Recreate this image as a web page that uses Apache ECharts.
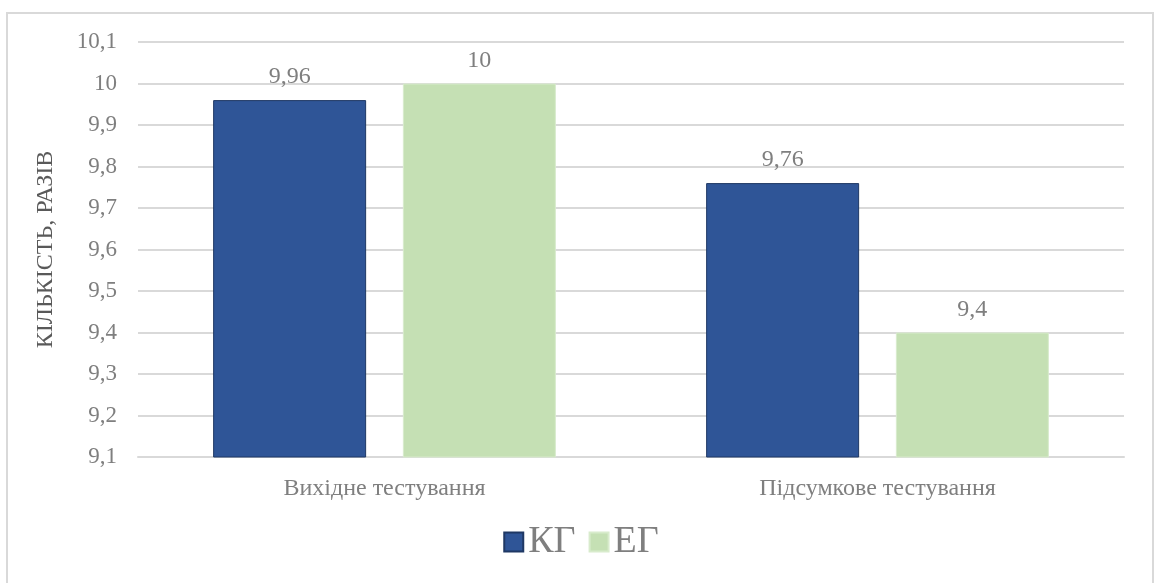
<!DOCTYPE html>
<html>
<head>
<meta charset="utf-8">
<script src="https://cdn.jsdelivr.net/npm/echarts@6/dist/echarts.min.js"></script>
<style>
  html, body { margin: 0; padding: 0; background: #fff; }
  #chart { width: 1162px; height: 583px; }
</style>
</head>
<body>
<div id="chart"></div>
<script>
const categories = ['Вихідне тестування', 'Підсумкове тестування']
const kgValues = [9.96, 9.76]
const egValues = [10, 9.4]
const seriesNames = ['КГ', 'ЕГ']

const FONT = 'Liberation Serif'
const GREY = '#7f7f7f'
const comma = (v) => String(v).replace('.', ',')

const chart = echarts.init(document.getElementById('chart'))

const barLabel = {
  show: true, position: 'top', distance: 11,
  color: GREY, fontFamily: FONT, fontSize: 24,
  formatter: (p) => comma(p.value)
}

chart.setOption({
  animation: false,
  textStyle: { fontFamily: FONT },
  graphic: [{
    type: 'rect', silent: true,
    shape: { x: 7, y: 13, width: 1146, height: 600 },
    style: { fill: 'none', stroke: '#d9d9d9', lineWidth: 2 }
  }],
  grid: { left: 138, right: 38, top: 42, bottom: 126 },
  legend: {
    bottom: 17, left: 'center',
    icon: 'rect', itemWidth: 19, itemHeight: 19, itemGap: 13,
    textStyle: { color: GREY, fontFamily: FONT, fontSize: 38 },
    data: seriesNames
  },
  xAxis: {
    type: 'category',
    data: categories,
    axisLine: { lineStyle: { color: '#d9d9d9', width: 2 } },
    axisTick: { show: false },
    axisLabel: { color: GREY, fontFamily: FONT, fontSize: 24, margin: 20 }
  },
  yAxis: {
    type: 'value', min: 9.1, max: 10.1, interval: 0.1,
    name: 'КІЛЬКІСТЬ, РАЗІВ',
    nameLocation: 'middle', nameGap: 80,
    nameTextStyle: { color: '#595959', fontFamily: FONT, fontSize: 24 },
    axisLine: { show: false },
    axisTick: { show: false },
    axisLabel: {
      color: GREY, fontFamily: FONT, fontSize: 23, margin: 21,
      formatter: (v) => comma(+v.toFixed(1))
    },
    splitLine: { lineStyle: { color: '#d9d9d9', width: 2 } }
  },
  series: [
    {
      name: seriesNames[0], type: 'bar', data: kgValues,
      barWidth: 153, barGap: '24%',
      itemStyle: { color: '#2f5597', borderColor: '#1f3864', borderWidth: 1 },
      label: barLabel
    },
    {
      name: seriesNames[1], type: 'bar', data: egValues,
      barWidth: 153,
      itemStyle: { color: '#c5e0b4', borderColor: '#d8ebcc', borderWidth: 1 },
      label: barLabel
    }
  ]
})
</script>
</body>
</html>
